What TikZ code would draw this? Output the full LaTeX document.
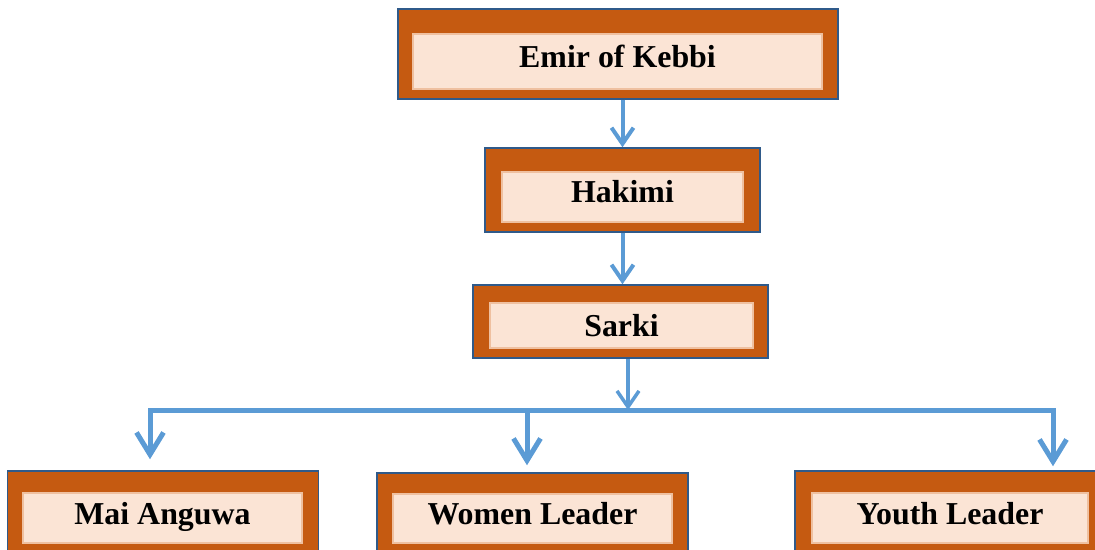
\documentclass[tikz,border=0pt]{standalone}
\usepackage{fontspec}
\setmainfont{Liberation Serif}
\usetikzlibrary{arrows.meta}

\definecolor{rust}{HTML}{C55A11}
\definecolor{rim}{HTML}{2F5A8A}
\definecolor{peach}{HTML}{FBE4D5}
\definecolor{haze}{HTML}{EFC0A0}
\definecolor{arrowblue}{HTML}{5B9BD5}

\tikzset{
  chief/.style={rectangle, draw=rim, line width=1.5bp, fill=rust, inner sep=0pt},
  title/.style={rectangle, draw=haze, line width=1.5bp, fill=peach, inner sep=0pt,
    text height=21bp, text depth=9bp, font=\fontsize{32}{35}\selectfont\bfseries},
  tie/.style={draw=arrowblue, line width=4bp, -{Straight Barb[length=16bp,width=22bp]}},
  drop/.style={draw=arrowblue, line width=5bp, -{Straight Barb[length=22bp,width=27bp]}},
}

\begin{document}
\begin{tikzpicture}[x=1bp, y=-1bp]

    \useasboundingbox (0,0) rectangle (1095,550);

    % Emir
    \node[chief, minimum width=440bp, minimum height=90bp] (emir) at (618,54) {};
    \node[title, minimum width=409bp, minimum height=55bp] (emirtx) at (617.5,61.5) {Emir of Kebbi};

    % Hakimi
    \node[chief, minimum width=275bp, minimum height=84bp] (hakimi) at (622.5,190) {};
    \node[title, minimum width=241bp, minimum height=50bp] (hakimitx) at (622.5,197) {Hakimi};

    % Sarki
    \node[chief, minimum width=295bp, minimum height=73bp] (sarki) at (620.5,321.5) {};
    \node[title, text depth=0bp, minimum width=263bp, minimum height=45bp] (sarkitx) at (621.5,325.5) {Sarki};

    % fila de abajo
    \node[chief, minimum width=311bp, minimum height=82bp] (mai) at (163,512) {};
    \node[title, minimum width=279bp, minimum height=50bp] (maitx) at (162.5,518) {Mai Anguwa};

    \node[chief, minimum width=311bp, minimum height=80bp] (women) at (532.5,513) {};
    \node[title, minimum width=279bp, minimum height=49bp] (womentx) at (532.5,518.5) {Women Leader};

    \node[chief, minimum width=309bp, minimum height=82bp] (youth) at (949.5,512) {};
    \node[title, minimum width=276bp, minimum height=50bp] (youthtx) at (950,518) {Youth Leader};

    % flechas de arriba
    \draw[tie] (hakimi.north |- emir.south) -- (hakimi.north);
    \draw[tie] (hakimi.south) -- (hakimi.south |- sarki.north);
    \draw[tie, line width=3.5bp] ([xshift=7.5bp]sarki.south) -- ([xshift=7.5bp]sarki.south |- 0,410);

    % barra
    \coordinate (busL) at (150,410);
    \coordinate (busR) at (1053,410);
    \coordinate (busW) at (527,410);
    \draw[drop, {Straight Barb[length=22bp,width=27bp]}-{Straight Barb[length=22bp,width=27bp]}]
        ([yshift=11bp]busL |- mai.north) -- (busL) -- (busR) -- ([yshift=4bp]busR |- youth.north);
    \draw[drop] (busW) -- ([yshift=7bp]busW |- women.north);

\end{tikzpicture}
\end{document}
